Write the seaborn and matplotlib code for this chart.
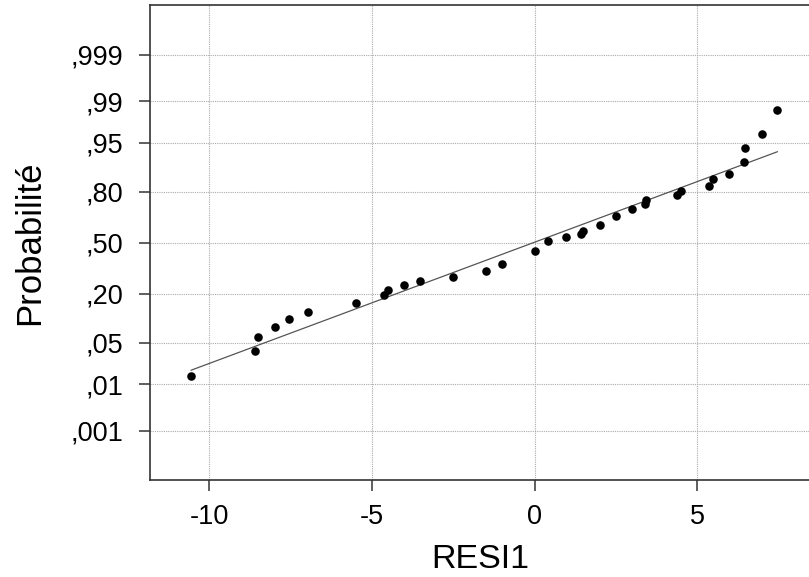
import matplotlib
matplotlib.use('Agg')
import matplotlib.pyplot as plt
import seaborn as sns
import numpy as np
import pandas as pd
from statistics import NormalDist

sns.set_theme(style='white')
plt.rcParams['font.family'] = ['Liberation Sans', 'DejaVu Sans']

# residuals
resi = [-10.57, -8.60, -8.52, -7.99, -7.56, -6.98, -5.50, -4.63, -4.51, -4.01, -3.52,
        -2.50, -1.50, -1.01, 0.00, 0.41, 0.97, 1.43, 1.48, 2.01, 2.50, 2.98, 3.39,
        3.42, 4.38, 4.49, 5.37, 5.49, 5.97, 6.43, 6.48, 6.99, 7.47]
# cumulative probability of each point
prob = [0.0143, 0.0379, 0.0599, 0.0821, 0.1047, 0.1282, 0.1618, 0.1949, 0.2183,
        0.2417, 0.2627, 0.2891, 0.3210, 0.3650, 0.4455, 0.5132, 0.5355, 0.5569,
        0.5781, 0.6164, 0.6715, 0.7119, 0.7363, 0.7587, 0.7823, 0.8037, 0.8267,
        0.8515, 0.8718, 0.9086, 0.9398, 0.9631, 0.9857]
# fitted normal line
fit_mu = -0.05
fit_sigma = 5.02

prob_ticks = [0.001, 0.01, 0.05, 0.20, 0.50, 0.80, 0.95, 0.99, 0.999]
prob_labels = [',001', ',01', ',05', ',20', ',50', ',80', ',95', ',99', ',999']
x_ticks = [-10, -5, 0, 5]

nd = NormalDist()
df = pd.DataFrame({'resi': resi, 'z': [nd.inv_cdf(p) for p in prob]})
line_x = np.array([min(resi), max(resi)])
line_df = pd.DataFrame({'resi': line_x, 'z': (line_x - fit_mu) / fit_sigma})

fig = plt.figure(figsize=(8.09, 5.77), dpi=100)
ax = fig.add_axes([150 / 809, 1 - 480 / 577, 660 / 809, 475 / 577])

sns.lineplot(x='resi', y='z', data=line_df, color='#555555', linewidth=0.9, ax=ax)
sns.scatterplot(x='resi', y='z', data=df, color='black', s=38, edgecolor='black',
                linewidth=0, ax=ax, zorder=3)

ax.set_xlim(-11.83, 8.47)
ax.set_ylim(-3.90, 3.91)
ax.set_xticks(x_ticks)
ax.set_xticklabels([str(t) for t in x_ticks])
ax.set_yticks([nd.inv_cdf(p) for p in prob_ticks])
ax.set_yticklabels(prob_labels)

ax.grid(True, color='#aaaaaa', linestyle=(0, (1, 1)), linewidth=0.8)
for s in ax.spines.values():
    s.set_color('#333333')
    s.set_linewidth(1.2)
    s.set_visible(True)
ax.tick_params(axis='both', which='major', direction='out', length=8, width=1.1,
               color='#333333', labelsize=19.5, labelcolor='black',
               bottom=True, left=True)
ax.tick_params(axis='y', pad=11)
ax.tick_params(axis='x', pad=9)

ax.set_xlabel('RESI1', fontsize=24.5, labelpad=10, color='black')
ax.set_ylabel('Probabilité', fontsize=25, labelpad=18, color='black')

fig.savefig('out.png', dpi=100)
